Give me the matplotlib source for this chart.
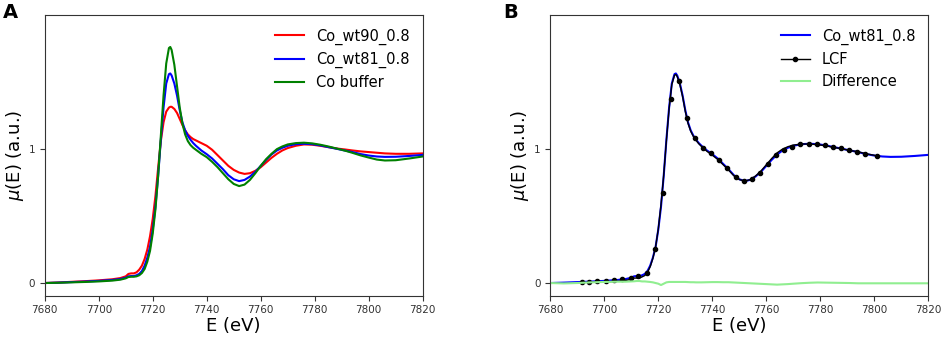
import numpy as np
import matplotlib
matplotlib.use("Agg")
import matplotlib.pyplot as plt
from matplotlib.lines import Line2D

# energy grid (eV) shared by all curves
energy = [7680, 7685, 7690, 7695, 7700, 7705, 7708, 7710, 7711, 7712, 7713, 7714,
          7715, 7716, 7717, 7718, 7719, 7720, 7721, 7722, 7723, 7724, 7725, 7726,
          7726.5, 7727, 7728, 7729, 7730, 7731, 7732, 7733, 7734, 7735, 7736, 7738,
          7740, 7742, 7744, 7746, 7748, 7750, 7752, 7754, 7756, 7758, 7760, 7762,
          7764, 7766, 7768, 7770, 7773, 7776, 7779, 7782, 7785, 7788, 7791, 7794,
          7797, 7800, 7803, 7806, 7810, 7815, 7820]

co_wt90 = [0.0, 0.004, 0.009, 0.014, 0.02, 0.028, 0.037, 0.05, 0.068, 0.072, 0.072, 0.08,
           0.1, 0.13, 0.18, 0.25, 0.35, 0.48, 0.65, 0.86, 1.06, 1.2, 1.28, 1.31,
           1.316, 1.316, 1.3, 1.27, 1.225, 1.18, 1.14, 1.11, 1.09, 1.075, 1.065, 1.045,
           1.025, 0.995, 0.955, 0.915, 0.875, 0.845, 0.825, 0.815, 0.82, 0.838, 0.865, 0.9,
           0.935, 0.965, 0.99, 1.008, 1.025, 1.035, 1.033, 1.025, 1.015, 1.005, 0.998, 0.99,
           0.983, 0.978, 0.973, 0.968, 0.965, 0.965, 0.968]

co_wt81 = [0.0, 0.003, 0.007, 0.011, 0.016, 0.023, 0.03, 0.04, 0.05, 0.052, 0.052, 0.058,
           0.068, 0.09, 0.13, 0.19, 0.27, 0.40, 0.57, 0.80, 1.07, 1.31, 1.49, 1.56,
           1.565, 1.55, 1.49, 1.40, 1.29, 1.20, 1.14, 1.10, 1.07, 1.045, 1.025, 0.99,
           0.962, 0.93, 0.89, 0.85, 0.805, 0.775, 0.761, 0.77, 0.795, 0.83, 0.875, 0.92,
           0.96, 0.99, 1.01, 1.025, 1.037, 1.04, 1.037, 1.028, 1.015, 1.003, 0.99, 0.978,
           0.963, 0.952, 0.945, 0.942, 0.943, 0.949, 0.957]

co_buffer = [0.0, 0.002, 0.005, 0.008, 0.012, 0.018, 0.025, 0.035, 0.045, 0.047, 0.047, 0.05,
             0.058, 0.075, 0.105, 0.16, 0.24, 0.37, 0.55, 0.80, 1.10, 1.40, 1.64, 1.755,
             1.763, 1.74, 1.63, 1.47, 1.31, 1.19, 1.11, 1.06, 1.03, 1.01, 0.995, 0.965,
             0.94, 0.905, 0.865, 0.82, 0.775, 0.74, 0.724, 0.735, 0.77, 0.82, 0.875, 0.925,
             0.965, 1.0, 1.02, 1.035, 1.045, 1.048, 1.043, 1.033, 1.02, 1.005, 0.99, 0.972,
             0.953, 0.937, 0.922, 0.915, 0.917, 0.93, 0.945]

# data minus fit (panel B)
difference = [0.0, -0.003, 0.0, 0.005, 0.008, 0.01, 0.01, 0.012, 0.013, 0.015, 0.015, 0.012,
              0.012, 0.01, 0.008, 0.005, 0.0, -0.005, -0.015, -0.005, 0.005, 0.008, 0.008, 0.008,
              0.008, 0.008, 0.008, 0.008, 0.008, 0.007, 0.006, 0.006, 0.005, 0.005, 0.005, 0.006,
              0.007, 0.007, 0.006, 0.006, 0.004, 0.002, 0.0, -0.002, -0.004, -0.006, -0.008, -0.01,
              -0.012, -0.01, -0.008, -0.005, -0.001, 0.002, 0.004, 0.003, 0.002, 0.001, 0.0, -0.002,
              -0.002, -0.002, -0.002, -0.002, -0.002, -0.002, -0.002]

# LCF fit points shown as markers
lcf_dot_energy = [7691.6, 7694.4, 7697.4, 7700.6, 7703.6, 7706.7, 7709.8, 7712.6, 7715.7,
                  7718.8, 7721.6, 7724.6, 7727.8, 7730.6, 7733.7, 7736.7, 7739.6, 7742.6,
                  7745.6, 7748.6, 7751.7, 7754.6, 7757.7, 7760.7, 7763.6, 7766.7, 7769.6,
                  7772.6, 7775.7, 7778.6, 7781.6, 7784.6, 7787.5, 7790.6, 7793.6, 7796.5,
                  7801.1]
lcf_dot_mu = [0.010, 0.010, 0.015, 0.017, 0.022, 0.027, 0.04, 0.052, 0.077,
              0.251, 0.674, 1.375, 1.507, 1.236, 1.085, 1.01, 0.968, 0.918,
              0.856, 0.793, 0.761, 0.774, 0.823, 0.888, 0.955, 0.993, 1.017,
              1.037, 1.037, 1.037, 1.030, 1.017, 1.005, 0.993, 0.980, 0.963,
              0.948]
fit_range = (7691, 7802)

energy = np.array(energy)
diff = np.array(difference)
lcf = np.array(co_wt81) - diff
in_fit = (energy >= fit_range[0]) & (energy <= fit_range[1])

fig = plt.figure(figsize=(9.48, 3.38), dpi=100)
ax_a = fig.add_axes([0.0472, 0.125, 0.3987, 0.830])
ax_b = fig.add_axes([0.5805, 0.125, 0.3987, 0.830])

ax_a.plot(energy, co_wt90, color='red', lw=1.5, label='Co_wt90_0.8')
ax_a.plot(energy, co_wt81, color='blue', lw=1.5, label='Co_wt81_0.8')
ax_a.plot(energy, co_buffer, color='green', lw=1.5, label='Co buffer')

ax_b.plot(energy, co_wt81, color='blue', lw=1.5)
ax_b.plot(energy[in_fit], lcf[in_fit], color='black', lw=1.0)
ax_b.plot(lcf_dot_energy, lcf_dot_mu, ls='none', marker='o', ms=3, color='black')
ax_b.plot(energy, diff, color='lightgreen', lw=1.5)

for ax in (ax_a, ax_b):
    ax.set_xlim(7680, 7820)
    ax.set_ylim(-0.095, 2.0)
    ax.set_xticks(np.arange(7680, 7821, 20))
    ax.set_yticks([0, 1])
    ax.tick_params(labelsize=7.5, colors='#333333', length=3.5, width=0.8)
    for s in ax.spines.values():
        s.set_color('#333333')
        s.set_linewidth(0.8)
    ax.set_xlabel('E (eV)', fontsize=13, labelpad=1)
    ax.set_ylabel(r'$\mu$(E) (a.u.)', fontsize=13, labelpad=2)

ax_a.legend(loc='upper right', frameon=False, fontsize=10.5)
handles = [Line2D([], [], color='blue', lw=1.5),
           Line2D([], [], color='black', lw=1.0, marker='o', ms=3),
           Line2D([], [], color='lightgreen', lw=1.5)]
ax_b.legend(handles, ['Co_wt81_0.8', 'LCF', 'Difference'],
            loc='upper right', frameon=False, fontsize=10.5)

fig.text(0.003, 0.99, 'A', fontsize=14, fontweight='bold', va='top')
fig.text(0.531, 0.99, 'B', fontsize=14, fontweight='bold', va='top')

fig.savefig('out.png', dpi=100)
